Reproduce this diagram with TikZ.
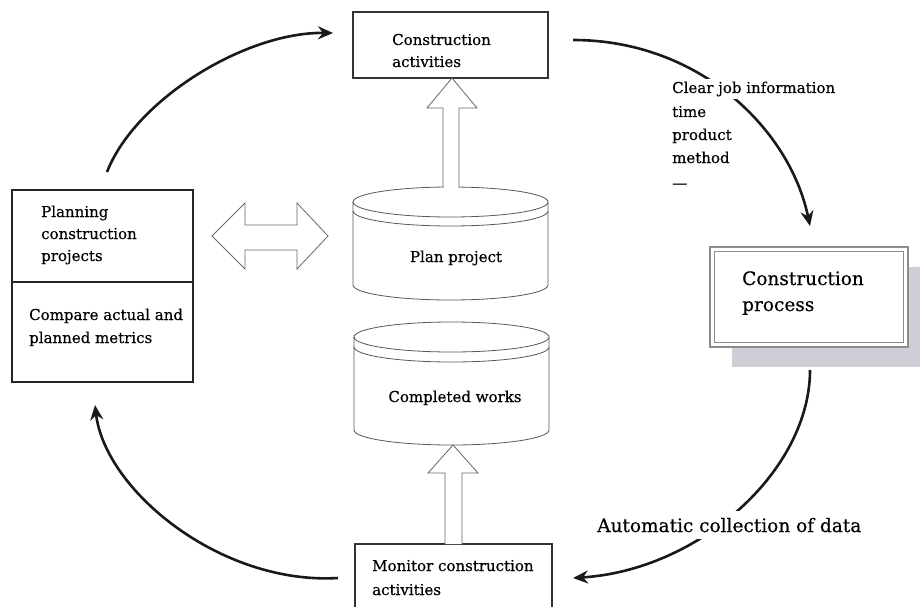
\documentclass[tikz,border=0pt]{standalone}
\usepackage{fontspec}
\setmainfont[FakeBold=0.4]{DejaVu Serif}
\usetikzlibrary{arrows.meta}
\definecolor{shadowgray}{HTML}{CDCED6}
\begin{document}
\begin{tikzpicture}[x=1pt,y=-1pt,
  txt/.style={inner sep=0pt, anchor=base west, font=\fontsize{15}{18}\selectfont},
  ctxt/.style={txt, anchor=base},
  bigtxt/.style={txt, font=\fontsize{18.5}{22}\selectfont},
  boxline/.style={draw=black!80, line width=1.2pt, inner sep=0pt},
  flow/.style={line width=2.6pt, draw=black!90, -{Stealth[length=15pt,width=13pt]}},
  block/.style={draw=black!60, line width=0.8pt, fill=white},
  cyl/.style={draw=black!65, line width=0.8pt}]
\useasboundingbox (0,0) rectangle (920,607);

% ---------- curved flow arrows (drawn first, texts cover them) ----------
\coordinate (c1s) at (107,172); \coordinate (c1e) at (333,33);
\coordinate (c2s) at (573,40);  \coordinate (c2e) at (810,226);
\coordinate (c3s) at (810,370); \coordinate (c3e) at (573,578);
\coordinate (c4s) at (338,578); \coordinate (c4e) at (95,405);
\draw[flow] (c1s) .. controls (135,100) and (245,32) .. (c1e);
\draw[flow] (c2s) .. controls (700,40) and (790,130) .. (c2e);
\draw[flow] (c3s) .. controls (810,470) and (700,570) .. (c3e);
\draw[flow] (c4s) .. controls (220,585) and (105,490) .. (c4e);

% ---------- boxes ----------
\node[boxline, minimum width=195pt, minimum height=66pt] (act) at (450.5,45) {};
\node[draw=black!85, line width=1.8pt, inner sep=0pt, minimum width=181pt, minimum height=92pt] (plan) at (102.5,236) {};
\node[draw=black!85, line width=1.8pt, inner sep=0pt, minimum width=181pt, minimum height=100pt] (cmp) at (102.5,332) {};
\node[boxline, minimum width=197pt, minimum height=68pt] (mon) at (453.5,578) {};

% construction process with shadow and double border
\fill[shadowgray] (732,267) rectangle (925,367);
\node[draw=black!45, line width=2pt, fill=white, inner sep=0pt, minimum width=198pt, minimum height=100pt] (proc) at (809,297) {};
\node[draw=black!45, line width=1.2pt, inner sep=0pt, minimum width=189pt, minimum height=91pt] (procin) at (proc.center) {};

% ---------- cylinders ----------
% Plan project
\draw[cyl, fill=white] (353,202) -- (353,285)
  arc[start angle=180, end angle=360, x radius=97.5pt, y radius=15pt] -- (548,202)
  arc[start angle=0, end angle=180, x radius=97.5pt, y radius=15pt] -- cycle;
\draw[cyl] (353,202) arc[start angle=180, end angle=360, x radius=97.5pt, y radius=15pt];
\draw[cyl] (353,211) arc[start angle=180, end angle=360, x radius=97.5pt, y radius=15pt];
% Completed works
\draw[cyl, fill=white] (354,337) -- (354,430)
  arc[start angle=180, end angle=360, x radius=97.5pt, y radius=15pt] -- (549,337)
  arc[start angle=0, end angle=180, x radius=97.5pt, y radius=15pt] -- cycle;
\draw[cyl] (354,337) arc[start angle=180, end angle=360, x radius=97.5pt, y radius=15pt];
\draw[cyl] (354,347) arc[start angle=180, end angle=360, x radius=97.5pt, y radius=15pt];

% ---------- block arrows ----------
\fill[white] (443,188) -- (443,108) -- (427,108) -- (452,78) -- (477,108) -- (459,108) -- (459,188) -- cycle;
\draw[block, fill=none] (443,188) -- (443,108) -- (427,108) -- (452,78) -- (477,108) -- (459,108) -- (459,188);
\fill[white] (445,544) -- (445,473) -- (428,473) -- (453,445) -- (478,473) -- (462,473) -- (462,544) -- cycle;
\draw[block, fill=none] (445,544) -- (445,473) -- (428,473) -- (453,445) -- (478,473) -- (462,473) -- (462,544);
\draw[block] (212,236) -- (245,203) -- (245,225) -- (297,225) -- (297,203) -- (328,236)
  -- (297,269) -- (297,250) -- (245,250) -- (245,269) -- cycle;

% ---------- texts ----------
\node[txt] (t1a) at (392,45) {Construction};
\node[txt] (t1b) at (392,67) {activities};
\node[txt] (t2a) at (41,217) {Planning};
\node[txt] (t2b) at (41,239) {construction};
\node[txt] (t2c) at (41,261) {projects};
\node[txt] (t3a) at (29,320) {Compare actual and};
\node[txt] (t3b) at (29,343) {planned metrics};
\node[ctxt] (t4) at (456,262) {Plan project};
\node[ctxt] (t5) at (455,402) {Completed works};
\node[txt] (t6a) at (372,571) {Monitor construction};
\node[txt] (t6b) at (372,595) {activities};
\node[bigtxt] (t7a) at (742,285) {Construction};
\node[bigtxt] (t7b) at (742,311) {process};
\node[txt, fill=white, inner ysep=3pt] (t8a) at (672,93) {Clear job information};
\node[txt] (t8b) at (672,117) {time};
\node[txt] (t8c) at (672,140) {product};
\node[txt] (t8d) at (672,163) {method};
\node[txt] (t8e) at (672,188) {\textemdash};
\node[bigtxt, fill=white, inner ysep=7pt] (t9) at (597,532) {Automatic collection of data};
\end{tikzpicture}
\end{document}
